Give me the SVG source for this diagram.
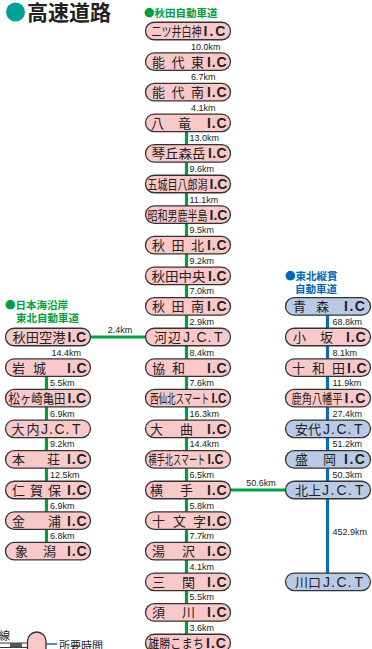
<svg xmlns="http://www.w3.org/2000/svg" width="372" height="649" viewBox="0 0 372 649">
<style>
.pk{fill:#f9c8c8;stroke:#333;stroke-width:1.3}
.bl{fill:#b8cae6;stroke:#333;stroke-width:1.3}
.jp{font-family:"Noto Sans CJK JP","Noto Sans CJK SC",sans-serif;font-size:13px;fill:#222}
.ic{font-family:"Liberation Sans",Arial,sans-serif;font-weight:bold;font-size:14px;letter-spacing:0.8px;fill:#222}
.jct{font-family:"Liberation Sans",Arial,sans-serif;font-size:14px;fill:#222}
.km{font-family:"Liberation Sans",Arial,sans-serif;font-size:9px;fill:#222}
.gl{stroke:#00a040;stroke-width:3.2;fill:none}
.bln{stroke:#0a6bbd;stroke-width:3.2;fill:none}
.hg{font-family:"Noto Sans CJK JP",sans-serif;font-size:10.5px;font-weight:bold;fill:#00a040}
.hb{font-family:"Noto Sans CJK JP",sans-serif;font-size:10.5px;font-weight:bold;fill:#0068b7}
</style>

<g id="title">
<circle cx="15.5" cy="12" r="9.5" fill="#00a198"/>
<text x="27" y="20" font-family="Noto Sans CJK JP,sans-serif" font-size="21" font-weight="bold" fill="#222">高速道路</text>
</g>
<g id="headers">
<text class="hg" x="144" y="17">●秋田自動車道</text>
<text class="hg"><tspan x="5" y="309">●日本海沿岸</tspan><tspan x="16" y="322">東北自動車道</tspan></text>
<text class="hb"><tspan x="285" y="280">●東北縦貫</tspan><tspan x="295" y="293">自動車道</tspan></text>
</g>

<g id="connectors">
<line class="gl" x1="186.5" y1="122.8" x2="186.5" y2="643"/>
<line class="gl" x1="46.5" y1="367.6" x2="46.5" y2="551.2"/>
<line class="bln" x1="327.5" y1="306.4" x2="327.5" y2="581.8"/>
<line class="gl" x1="90" y1="337" x2="146" y2="337"/>
<line class="gl" x1="230" y1="490" x2="286" y2="490"/>
<text class="km" x="120" y="333" text-anchor="middle">2.4km</text>
<text class="km" x="261" y="486" text-anchor="middle">50.6km</text>
<text class="km" x="191" y="49.5">10.0km</text>
<text class="km" x="191" y="80.1">6.7km</text>
<text class="km" x="191" y="110.7">4.1km</text>
<text class="km" x="189.5" y="141.3">13.0km</text>
<text class="km" x="189.5" y="171.9">9.6km</text>
<text class="km" x="189.5" y="202.5">11.1km</text>
<text class="km" x="189.5" y="233.1">9.5km</text>
<text class="km" x="189.5" y="263.7">9.2km</text>
<text class="km" x="189.5" y="294.3">7.0km</text>
<text class="km" x="189.5" y="324.9">2.9km</text>
<text class="km" x="189.5" y="355.5">8.4km</text>
<text class="km" x="189.5" y="386.1">7.6km</text>
<text class="km" x="189.5" y="416.7">16.3km</text>
<text class="km" x="189.5" y="447.3">14.4km</text>
<text class="km" x="189.5" y="477.9">6.5km</text>
<text class="km" x="189.5" y="508.5">5.8km</text>
<text class="km" x="189.5" y="539.1">7.7km</text>
<text class="km" x="189.5" y="569.7">4.1km</text>
<text class="km" x="189.5" y="600.3">5.5km</text>
<text class="km" x="189.5" y="630.9">3.6km</text>
<text class="km" x="51.5" y="355.5">14.4km</text>
<text class="km" x="50" y="386.1">5.5km</text>
<text class="km" x="50" y="416.7">6.9km</text>
<text class="km" x="50" y="447.3">9.2km</text>
<text class="km" x="50" y="477.9">12.5km</text>
<text class="km" x="50" y="508.5">6.9km</text>
<text class="km" x="50" y="539.1">6.8km</text>
<text class="km" x="332.5" y="324.9">68.8km</text>
<text class="km" x="332.5" y="355.5">8.1km</text>
<text class="km" x="332.5" y="386.1">11.9km</text>
<text class="km" x="332.5" y="416.7">27.4km</text>
<text class="km" x="332.5" y="447.3">51.2km</text>
<text class="km" x="332.5" y="477.9">50.3km</text>
<text class="km" x="332.5" y="535">452.9km</text>
</g>

<!-- center column -->
<g id="n-futatsui"><rect class="pk" x="145.5" y="22.25" width="85" height="17.5" rx="8.75"/><text class="jp" transform="translate(151.5,36) scale(0.77,1)">二ツ井白神</text><text class="ic" x="203.5" y="36" style="letter-spacing:2px">I.C</text></g>
<g id="n-noshiro-e"><rect class="pk" x="145.5" y="52.85" width="85" height="17.5" rx="8.75"/><text class="jp" x="152 171.5 191" y="66.6">能代東</text><text class="ic" x="207" y="66.6">I.C</text></g>
<g id="n-noshiro-s"><rect class="pk" x="145.5" y="83.45" width="85" height="17.5" rx="8.75"/><text class="jp" x="152 171.5 191" y="97.2">能代南</text><text class="ic" x="207" y="97.2">I.C</text></g>
<g id="n-hachiryu"><rect class="pk" x="145.5" y="114.05" width="85" height="17.5" rx="8.75"/><text class="jp" x="151 178" y="127.8">八竜</text><text class="ic" x="207" y="127.8">I.C</text></g>
<g id="n-kotooka"><rect class="pk" x="145.5" y="144.65" width="85" height="17.5" rx="8.75"/><text class="jp" x="151.5" y="158.4" textLength="54" lengthAdjust="spacingAndGlyphs">琴丘森岳</text><text class="ic" x="208" y="158.4" style="letter-spacing:0.3px">I.C</text></g>
<g id="n-gojome"><rect class="pk" x="145.5" y="175.25" width="85" height="17.5" rx="8.75"/><text class="jp" transform="translate(147.5,189) scale(0.77,1)">五城目八郎潟</text><text class="ic" x="209.5" y="189" style="letter-spacing:0">I.C</text></g>
<g id="n-showa"><rect class="pk" x="145.5" y="205.85" width="85" height="17.5" rx="8.75"/><text class="jp" transform="translate(147.5,219.6) scale(0.77,1)">昭和男鹿半島</text><text class="ic" x="209.5" y="219.6" style="letter-spacing:0">I.C</text></g>
<g id="n-akita-n"><rect class="pk" x="145.5" y="236.45" width="85" height="17.5" rx="8.75"/><text class="jp" x="152 171.5 191" y="250.2">秋田北</text><text class="ic" x="207" y="250.2">I.C</text></g>
<g id="n-akita-c"><rect class="pk" x="145.5" y="267.05" width="85" height="17.5" rx="8.75"/><text class="jp" x="151.5" y="280.8" textLength="54" lengthAdjust="spacingAndGlyphs">秋田中央</text><text class="ic" x="208" y="280.8" style="letter-spacing:0.3px">I.C</text></g>
<g id="n-akita-s"><rect class="pk" x="145.5" y="297.65" width="85" height="17.5" rx="8.75"/><text class="jp" x="152 171.5 191" y="311.4">秋田南</text><text class="ic" x="207" y="311.4">I.C</text></g>
<g id="n-kawabe"><rect class="pk" x="145.5" y="328.25" width="85" height="17.5" rx="8.75"/><text class="jp" x="154 168" y="342">河辺</text><text class="jct" x="183 191 196.5 207.5 214" y="342">J.C.T</text></g>
<g id="n-kyowa"><rect class="pk" x="145.5" y="358.85" width="85" height="17.5" rx="8.75"/><text class="jp" x="152 172" y="372.6">協和</text><text class="ic" x="207" y="372.6">I.C</text></g>
<g id="n-nishisenboku"><rect class="pk" x="145.5" y="389.45" width="85" height="17.5" rx="8.75"/><text class="jp" transform="translate(150,403.2) scale(0.654,1)">西仙北スマート</text><text class="ic" transform="translate(211.5,403.2) scale(0.84,1)" style="letter-spacing:0">I.C</text></g>
<g id="n-omagari"><rect class="pk" x="145.5" y="420.05" width="85" height="17.5" rx="8.75"/><text class="jp" x="150 180" y="433.8">大曲</text><text class="ic" x="207" y="433.8">I.C</text></g>
<g id="n-yokotekita"><rect class="pk" x="145.5" y="450.65" width="85" height="17.5" rx="8.75"/><text class="jp" transform="translate(148.5,464.4) scale(0.626,1)">横手北スマート</text><text class="ic" transform="translate(207.5,464.4) scale(0.89,1)" style="letter-spacing:0">I.C</text></g>
<g id="n-yokote"><rect class="pk" x="145.5" y="481.25" width="85" height="17.5" rx="8.75"/><text class="jp" x="150 180" y="495">横手</text><text class="ic" x="207" y="495">I.C</text></g>
<g id="n-jumonji"><rect class="pk" x="145.5" y="511.85" width="85" height="17.5" rx="8.75"/><text class="jp" x="152 173 193" y="525.6">十文字</text><text class="ic" x="207" y="525.6">I.C</text></g>
<g id="n-yuzawa"><rect class="pk" x="145.5" y="542.45" width="85" height="17.5" rx="8.75"/><text class="jp" x="152 182" y="556.2">湯沢</text><text class="ic" x="207" y="556.2">I.C</text></g>
<g id="n-sanseki"><rect class="pk" x="145.5" y="573.05" width="85" height="17.5" rx="8.75"/><text class="jp" x="152 182" y="586.8">三関</text><text class="ic" x="207" y="586.8">I.C</text></g>
<g id="n-sukawa"><rect class="pk" x="145.5" y="603.65" width="85" height="17.5" rx="8.75"/><text class="jp" x="152 182" y="617.4">須川</text><text class="ic" x="207" y="617.4">I.C</text></g>
<g id="n-ogachi"><rect class="pk" x="145.5" y="634.25" width="85" height="17.5" rx="8.75"/><text class="jp" transform="translate(148,648) scale(0.86,1)">雄勝こまち</text><text class="ic" x="206" y="648" style="letter-spacing:1px">I.C</text></g>

<!-- left column -->
<g id="n-akitakuko"><rect class="pk" x="5.5" y="328.25" width="85" height="17.5" rx="8.75"/><text class="jp" x="12.5" y="342" textLength="53" lengthAdjust="spacingAndGlyphs">秋田空港</text><text class="ic" x="67.5" y="342" style="letter-spacing:0.3px">I.C</text></g>
<g id="n-iwaki"><rect class="pk" x="5.5" y="358.85" width="85" height="17.5" rx="8.75"/><text class="jp" x="12 33" y="372.6">岩城</text><text class="ic" x="67" y="372.6">I.C</text></g>
<g id="n-matsugasaki"><rect class="pk" x="5.5" y="389.45" width="85" height="17.5" rx="8.75"/><text class="jp" transform="translate(8.5,403.2) scale(0.877,1)">松ヶ崎亀田</text><text class="ic" x="67.5" y="403.2" style="letter-spacing:0.3px">I.C</text></g>
<g id="n-ouchi"><rect class="pk" x="5.5" y="420.05" width="85" height="17.5" rx="8.75"/><text class="jp" x="11.5 26.5" y="433.8">大内</text><text class="jct" x="41 49 54.5 65.5 72" y="433.8">J.C.T</text></g>
<g id="n-honjo"><rect class="pk" x="5.5" y="450.65" width="85" height="17.5" rx="8.75"/><text class="jp" x="12 47" y="464.4">本荘</text><text class="ic" x="67" y="464.4">I.C</text></g>
<g id="n-nikaho"><rect class="pk" x="5.5" y="481.25" width="85" height="17.5" rx="8.75"/><text class="jp" x="12 30 48" y="495">仁賀保</text><text class="ic" x="67" y="495">I.C</text></g>
<g id="n-konoura"><rect class="pk" x="5.5" y="511.85" width="85" height="17.5" rx="8.75"/><text class="jp" x="12 48" y="525.6">金浦</text><text class="ic" x="67" y="525.6">I.C</text></g>
<g id="n-kisakata"><rect class="pk" x="5.5" y="542.45" width="85" height="17.5" rx="8.75"/><text class="jp" x="15 43" y="556.2">象潟</text><text class="ic" x="67" y="556.2">I.C</text></g>

<!-- right column -->
<g id="n-aomori"><rect class="bl" x="285.5" y="297.65" width="85" height="17.5" rx="8.75"/><text class="jp" x="293 316" y="311.4">青森</text><text class="ic" x="344" y="311.4" style="letter-spacing:1.5px">I.C</text></g>
<g id="n-kosaka"><rect class="pk" x="285.5" y="328.25" width="85" height="17.5" rx="8.75"/><text class="jp" x="293 320" y="342">小坂</text><text class="ic" x="346" y="342">I.C</text></g>
<g id="n-towada"><rect class="pk" x="285.5" y="358.85" width="85" height="17.5" rx="8.75"/><text class="jp" x="292 312 332" y="372.6">十和田</text><text class="ic" x="347" y="372.6">I.C</text></g>
<g id="n-kazuno"><rect class="pk" x="285.5" y="389.45" width="85" height="17.5" rx="8.75"/><text class="jp" transform="translate(291.5,403.2) scale(0.785,1)">鹿角八幡平</text><text class="ic" x="344.5" y="403.2" style="letter-spacing:1.5px">I.C</text></g>
<g id="n-ashiro"><rect class="bl" x="285.5" y="420.05" width="85" height="17.5" rx="8.75"/><text class="jp" x="295 308" y="433.8">安代</text><text class="jct" x="323 331 336.5 347.5 354" y="433.8">J.C.T</text></g>
<g id="n-morioka"><rect class="bl" x="285.5" y="450.65" width="85" height="17.5" rx="8.75"/><text class="jp" x="295 323" y="464.4">盛岡</text><text class="ic" x="344" y="464.4" style="letter-spacing:1.5px">I.C</text></g>
<g id="n-kitakami"><rect class="bl" x="285.5" y="481.25" width="85" height="17.5" rx="8.75"/><text class="jp" x="295 308" y="495">北上</text><text class="jct" x="322 330.5 336.5 348 355" y="495">J.C.T</text></g>
<g id="n-kawaguchi"><rect class="bl" x="285.5" y="573.05" width="85" height="17.5" rx="8.75"/><text class="jp" x="295 308" y="586.8">川口</text><text class="jct" x="323 331 336.5 347.5 354.5" y="586.8">J.C.T</text></g>

<g id="legend">
<text x="-1" y="639.5" font-family="Noto Sans CJK JP,sans-serif" font-size="11" fill="#222">線</text>
<rect x="-1" y="643" width="28.5" height="4.5" fill="#fff" stroke="#333" stroke-width="1"/>
<rect x="10" y="643" width="12" height="4.5" fill="#555"/>
<rect class="pk" x="27.5" y="632" width="18.5" height="30" rx="9.25"/>
<line x1="46" y1="644" x2="57" y2="644" stroke="#0a6bbd" stroke-width="1.5"/>
<text x="59" y="650" font-family="Noto Sans CJK JP,sans-serif" font-size="11" fill="#222">所要時間</text>
</g>
</svg>
